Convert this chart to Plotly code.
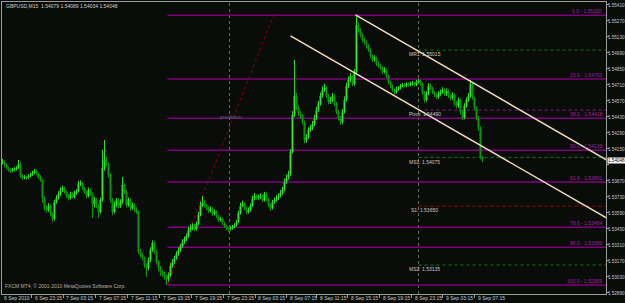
import plotly.graph_objects as go

# ---------------- data (prices in points, 1e-5) ----------------
opens = [
154030,154037,154010,153984,153967,153958,153967,153975,153984,154019,
153914,153897,153905,153897,153914,153923,153940,153958,153932,153905,
153879,153722,153634,153617,153652,153582,153538,153687,153722,153757,
153792,153809,153774,153739,153722,153757,153730,153765,153783,153844,
153853,153809,153774,153739,153792,153757,153669,153704,153652,153599,
153704,153984,154054,154019,153923,153704,153599,153660,153704,153652,
153687,153835,153774,153660,153704,153634,153660,153617,153599,153249,
153223,153197,153135,153109,153179,153267,153328,153249,153162,153109,
153074,153057,153039,153013,153048,153127,153162,153197,153232,153267,
153302,153337,153363,153389,153442,153459,153477,153450,153494,153573,
153652,153678,153652,153634,153608,153625,153582,153599,153564,153529,
153538,153503,153477,153459,153450,153459,153468,153485,153512,153590,
153652,153669,153634,153599,153617,153652,153713,153739,153722,153730,
153739,153704,153757,153713,153660,153634,153687,153704,153722,153739,
153765,153792,153862,153897,153932,154124,154448,154614,154509,154465,
154439,154387,154229,154255,154317,154334,154369,154422,154492,154544,
154614,154667,154684,154614,154562,154579,154614,154544,154474,154422,
154387,154474,154579,154702,154754,154789,154719,154824,155235,155192,
155148,155104,155087,155052,155017,154964,154929,154947,154894,154877,
154859,154824,154842,154789,154737,154702,154667,154649,154675,154684,
154702,154710,154702,154719,154710,154719,154728,154710,154737,154745,
154719,154649,154579,154632,154702,154684,154649,154623,154605,154632,
154649,154667,154632,154658,154614,154597,154623,154553,154527,154579,
154474,154422,154527,154579,154614,154719,154597,154509,154422,154334,
154079]
highs = [
154062,154049,154022,153995,153981,153985,153990,154001,154054,154030,
153928,153921,153917,153930,153941,153958,153976,153970,153945,153921,
153890,153740,153656,153676,153665,153598,153705,153745,153780,153815,
153830,153822,153788,153755,153776,153770,153785,153800,153870,153875,
153862,153820,153786,153812,153805,153770,153730,153720,153668,153725,
154142,154229,154080,154035,153940,153720,153690,153722,153718,153710,
153905,153850,153790,153725,153715,153682,153675,153640,153610,153275,
153240,153210,153150,153200,153290,153350,153340,153265,153180,153125,
153090,153075,153050,153070,153150,153185,153215,153255,153290,153320,
153360,153385,153410,153470,153490,153500,153495,153515,153600,153690,
153739,153700,153670,153650,153648,153640,153620,153612,153575,153556,
153550,153515,153490,153470,153475,153485,153500,153530,153610,153680,
153700,153685,153645,153640,153675,153740,153765,153755,153750,153760,
153752,153775,153770,153725,153675,153705,153725,153745,153760,153790,
153820,153890,153925,153960,154150,154480,154929,154640,154530,154485,
154455,154400,154280,154340,154360,154395,154450,154520,154570,154645,
154700,154720,154700,154630,154605,154640,154630,154560,154490,154440,
154500,154610,154730,154785,154815,154800,154850,155320,155260,155210,
155165,155125,155100,155070,155030,154980,154970,154960,154915,154895,
154875,154865,154855,154800,154750,154715,154680,154695,154700,154720,
154728,154725,154735,154732,154738,154745,154740,154755,154765,154758,
154730,154660,154655,154725,154720,154695,154660,154640,154655,154670,
154690,154680,154678,154670,154630,154645,154635,154570,154600,154590,
154490,154550,154600,154640,154754,154730,154610,154525,154440,154350,
154089]
lows = [
154015,153993,153970,153951,153940,153946,153955,153962,153975,153899,
153880,153886,153879,153888,153903,153915,153931,153918,153890,153862,
153678,153610,153593,153600,153560,153512,153525,153670,153708,153740,
153775,153758,153720,153700,153710,153715,153718,153748,153770,153826,
153790,153755,153717,153725,153740,153547,153640,153630,153547,153585,
153690,153960,153995,153900,153680,153570,153585,153640,153630,153635,
153670,153755,153640,153645,153610,153620,153595,153580,153230,153200,
153175,153110,153030,153090,153160,153250,153230,153140,153080,153040,
153030,153005,152960,152990,153030,153110,153145,153180,153215,153250,
153285,153320,153345,153375,153420,153440,153430,153435,153480,153560,
153640,153635,153615,153590,153595,153565,153570,153545,153510,153515,
153485,153460,153440,153424,153435,153445,153455,153470,153500,153575,
153640,153615,153580,153585,153600,153640,153700,153705,153705,153712,
153685,153690,153695,153640,153610,153620,153670,153690,153705,153725,
153750,153780,153845,153880,153915,154110,154430,154490,154440,154415,
154365,154200,154205,154240,154300,154315,154350,154405,154475,154530,
154600,154650,154595,154540,154545,154560,154525,154455,154400,154360,
154370,154460,154565,154685,154735,154700,154705,154810,155170,155125,
155085,155065,155030,155000,154945,154910,154915,154875,154860,154840,
154805,154810,154770,154715,154685,154650,154630,154635,154660,154670,
154690,154688,154690,154695,154698,154705,154695,154700,154725,154700,
154625,154555,154565,154620,154665,154630,154605,154585,154590,154615,
154635,154615,154615,154595,154575,154580,154530,154505,154510,154450,
154404,154410,154510,154560,154600,154580,154490,154400,154310,154060,
154034]
closes = [
154037,154010,153984,153967,153958,153967,153975,153984,154019,153914,
153897,153905,153897,153914,153923,153940,153958,153932,153905,153879,
153722,153634,153617,153652,153582,153538,153687,153722,153757,153792,
153809,153774,153739,153722,153757,153730,153765,153783,153844,153853,
153809,153774,153739,153792,153757,153669,153704,153652,153599,153704,
153984,154054,154019,153923,153704,153599,153660,153704,153652,153687,
153835,153774,153660,153704,153634,153660,153617,153599,153249,153223,
153197,153135,153109,153179,153267,153328,153249,153162,153109,153074,
153057,153039,153013,153048,153127,153162,153197,153232,153267,153302,
153337,153363,153389,153442,153459,153477,153450,153494,153573,153652,
153678,153652,153634,153608,153625,153582,153599,153564,153529,153538,
153503,153477,153459,153450,153459,153468,153485,153512,153590,153652,
153669,153634,153599,153617,153652,153713,153739,153722,153730,153739,
153704,153757,153713,153660,153634,153687,153704,153722,153739,153765,
153792,153862,153897,153932,154124,154448,154614,154509,154465,154439,
154387,154229,154255,154317,154334,154369,154422,154492,154544,154614,
154667,154684,154614,154562,154579,154614,154544,154474,154422,154387,
154474,154579,154702,154754,154789,154719,154824,155235,155192,155148,
155104,155087,155052,155017,154964,154929,154947,154894,154877,154859,
154824,154842,154789,154737,154702,154667,154649,154675,154684,154702,
154710,154702,154719,154710,154719,154728,154710,154737,154745,154719,
154649,154579,154632,154702,154684,154649,154623,154605,154632,154649,
154667,154632,154658,154614,154597,154623,154553,154527,154579,154474,
154422,154527,154579,154614,154719,154597,154509,154422,154334,154079,
154048]

time_tick_pos = [14.5, 30.3, 46.5, 62.5, 78.5, 94.5, 110.5, 126.3, 142, 157, 172.5, 188.5, 204.5, 220, 236]
time_tick_labels = ["6 Sep 23:15", "7 Sep 03:15", "7 Sep 07:15", "7 Sep 11:15", "7 Sep 15:15",
                    "7 Sep 19:15", "7 Sep 23:15", "8 Sep 03:15", "8 Sep 07:15", "8 Sep 11:15",
                    "8 Sep 15:15", "8 Sep 19:15", "8 Sep 23:15", "9 Sep 03:15", "9 Sep 07:15"]
first_date_label = "6 Sep 2010"

price_ticks = [1.52890, 1.53030, 1.53170, 1.53310, 1.53450, 1.53590, 1.53730, 1.53870, 1.54010,
               1.54150, 1.54290, 1.54430, 1.54570, 1.54710, 1.54850, 1.54990, 1.55130, 1.55270, 1.55410]
hidden_tick = 1.54010  # covered by the current-price box in the reference

fib_levels = [0.0, 23.6, 38.2, 50.0, 61.8, 78.6, 86.0, 100.0]
fib_prices = [1.55320, 1.54763, 1.54418, 1.54139, 1.53861, 1.53464, 1.53289, 1.52959]
fib_start_bar = 82.5
fib_anchor_bars = [82.5, 135.5]
fib_anchor_prices = [1.52959, 1.55320]

pivot_names = ["MR1", "Pivot", "MS1", "S1", "MS2"]
pivot_prices = [1.55015, 1.54490, 1.54075, 1.53650, 1.53135]
pivot_colors = ["#0a7a0a", "#8a1a8a", "#0a7a0a", "#b00000", "#0a7a0a"]
pivot_start_bar = 208

separator_bars = [113.5, 208]

chan_upper_bars = [176.5, 302]
chan_upper_prices = [1.55323, 1.54054]
chan_lower_bars = [144, 302]
chan_lower_prices = [1.55139, 1.53546]

symbol_header = "GBPUSD,M15  1.54079 1.54089 1.54034 1.54048"
footer_text = "FXCM MT4, © 2001-2010 MetaQuotes Software Corp."
last_price = 1.54048
predict_label = "prediktion"
predict_bar = 114
predict_price = 1.54429

# ---------------- figure ----------------
BG = "#0a0c0a"
AX = "#9c9c9c"
FONT = "Liberation Sans"
bars = list(range(len(closes)))
sc = 1e5

fig = go.Figure()
fig.add_trace(go.Candlestick(
    x=bars,
    open=[v / sc for v in opens], high=[v / sc for v in highs],
    low=[v / sc for v in lows], close=[v / sc for v in closes],
    increasing=dict(line=dict(color="#2fd82f", width=1), fillcolor="#5cff5c"),
    decreasing=dict(line=dict(color="#0c960c", width=1), fillcolor="#0c960c"),
    whiskerwidth=0, showlegend=False, hoverinfo="skip"))

shapes = []
for b in separator_bars:
    shapes.append(dict(type="line", xref="x", yref="paper", x0=b, x1=b, y0=0, y1=1,
                       line=dict(color="#6a6a6a", width=1, dash="dot"), layer="below"))
for p in fib_prices:
    shapes.append(dict(type="line", xref="x", yref="y", x0=fib_start_bar, x1=302, y0=p, y1=p,
                       line=dict(color="#7d007d", width=1.5), layer="below"))
shapes.append(dict(type="line", xref="x", yref="y", x0=fib_anchor_bars[0], x1=fib_anchor_bars[1],
                   y0=fib_anchor_prices[0], y1=fib_anchor_prices[1],
                   line=dict(color="#8a0000", width=1, dash="dot"), layer="below"))
for p, c in zip(pivot_prices, pivot_colors):
    shapes.append(dict(type="line", xref="x", yref="y", x0=pivot_start_bar, x1=302, y0=p, y1=p,
                       line=dict(color=c, width=1, dash="dot"), layer="below"))
for bx, py in ((chan_upper_bars, chan_upper_prices), (chan_lower_bars, chan_lower_prices)):
    shapes.append(dict(type="line", xref="x", yref="y", x0=bx[0], x1=bx[1], y0=py[0], y1=py[1],
                       line=dict(color="#f0dcbe", width=1.5), layer="above"))

ann = []
for lv, p in zip(fib_levels, fib_prices):
    ann.append(dict(xref="paper", yref="y", x=0.997, y=p, xanchor="right", yanchor="bottom",
                    text=f"{lv:.1f} - {p:.5f}", showarrow=False, yshift=-1,
                    font=dict(family=FONT, size=5, color="#a020a0")))
for n, p in zip(pivot_names, pivot_prices):
    ann.append(dict(xref="x", yref="y", x=pivot_start_bar + 3, y=p, xanchor="center", yanchor="top",
                    text=f"{n}: {p:.5f}", showarrow=False, yshift=1,
                    font=dict(family=FONT, size=5, color="#c8c8c8")))
for pos, lab in zip(time_tick_pos, time_tick_labels):
    ann.append(dict(xref="x", yref="paper", x=pos, y=-0.013, xanchor="left", yanchor="middle",
                    text=lab, showarrow=False, xshift=1,
                    font=dict(family=FONT, size=5, color="#c8c8c8")))
ann.append(dict(xref="paper", yref="paper", x=0.0, y=-0.013, xanchor="left", yanchor="middle",
                text=first_date_label, showarrow=False,
                font=dict(family=FONT, size=5, color="#c8c8c8")))
ann.append(dict(xref="paper", yref="paper", x=0.004, y=0.988, xanchor="left", yanchor="middle",
                text=symbol_header, showarrow=False,
                font=dict(family=FONT, size=5, color="#d0d0d0")))
ann.append(dict(xref="paper", yref="paper", x=0.002, y=0.027, xanchor="left", yanchor="middle",
                text=footer_text, showarrow=False,
                font=dict(family=FONT, size=5, color="#b0b0b0")))
ann.append(dict(xref="x", yref="y", x=predict_bar, y=predict_price, xanchor="center", yanchor="middle",
                text=predict_label, showarrow=False,
                font=dict(family=FONT, size=5, color="#4a6a6a")))
ann.append(dict(xref="paper", yref="y", x=1.0, y=last_price, xanchor="left", yanchor="middle",
                text=f"{last_price:.5f}", showarrow=False, xshift=1, bgcolor="#ffffff",
                borderpad=0, font=dict(family=FONT, size=4.6, color="#000000")))

fig.update_layout(
    width=625, height=303,
    margin=dict(l=2, r=19, t=2, b=9, autoexpand=False),
    paper_bgcolor=BG, plot_bgcolor=BG,
    shapes=shapes, annotations=ann, showlegend=False,
    xaxis=dict(range=[-0.25, 301.75], showgrid=False, zeroline=False, rangeslider=dict(visible=False),
               showline=True, linecolor=AX, linewidth=1, mirror=True,
               tickvals=time_tick_pos, ticks="outside", ticklen=3, tickcolor=AX,
               showticklabels=False, automargin=False),
    yaxis=dict(range=[1.52881, 1.55436], side="right", showgrid=False, zeroline=False,
               showline=True, linecolor=AX, linewidth=1, mirror=True,
               tickvals=price_ticks,
               ticktext=["" if t == hidden_tick else f"{t:.5f}" for t in price_ticks],
               ticks="outside", ticklen=2, tickcolor=AX, ticklabelstandoff=-2,
               tickfont=dict(family=FONT, size=4.6, color="#c8c8c8"), automargin=False),
)

fig.write_html("out.html")
